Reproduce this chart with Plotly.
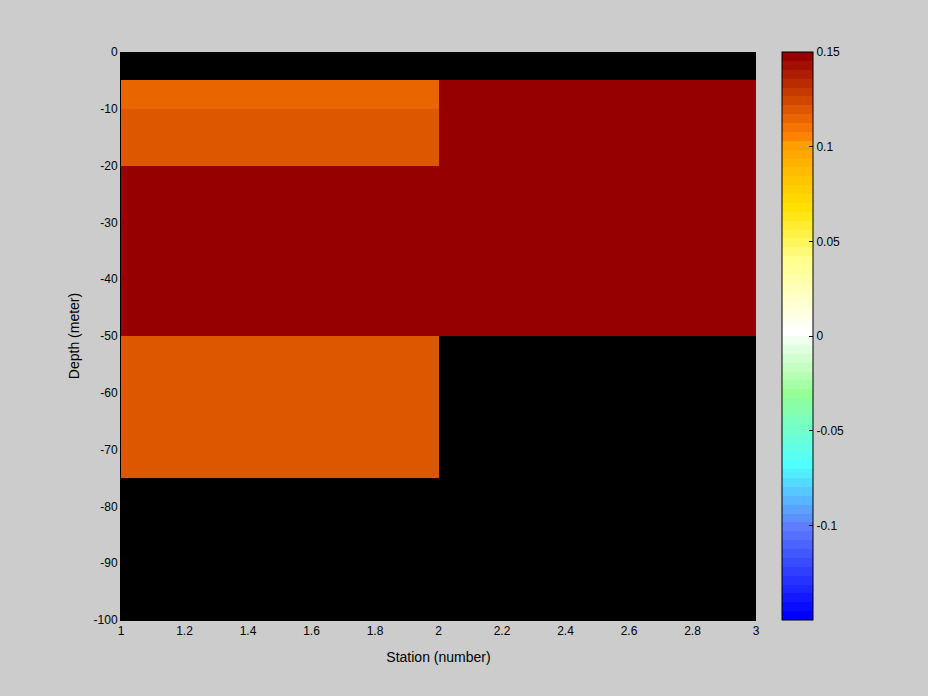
import plotly.graph_objects as go

# Data
station_edges = [1, 2, 3]
depth_edges = [-100, -75, -50, -20, -10, -5, 0]
# rows from deepest to shallowest, columns: station 1-2, station 2-3
values = [
    [None, None],
    [0.1195, None],
    [0.15, 0.15],
    [0.1195, 0.15],
    [0.1148, 0.15],
    [None, None],
]
cb_ticks = [-0.1, -0.05, 0, 0.05, 0.1, 0.15]
cb_ticktext = ["-0.1", "-0.05", "0", "0.05", "0.1", "0.15"]
x_ticks = [1, 1.2, 1.4, 1.6, 1.8, 2, 2.2, 2.4, 2.6, 2.8, 3]
y_ticks = [0, -10, -20, -30, -40, -50, -60, -70, -80, -90, -100]

# Discrete 64-level colormap (styling)
anchors = [
    (0, (0, 0, 255)),
    (10, (95, 125, 255)),
    (17, (80, 255, 255)),
    (25, (150, 255, 150)),
    (32, (255, 255, 255)),
    (40, (255, 255, 140)),
    (46, (255, 225, 0)),
    (53, (255, 160, 0)),
    (54, (255, 130, 0)),
    (63, (150, 0, 0)),
]
N = 64
def col(i):
    for (a, ca), (b, cb) in zip(anchors[:-1], anchors[1:]):
        if a <= i <= b:
            t = (i - a) / (b - a) if b > a else 0
            return tuple(round(ca[k] + (cb[k] - ca[k]) * t) for k in range(3))
    return anchors[-1][1]
colorscale = []
for i in range(N):
    c = "rgb(%d,%d,%d)" % col(i)
    colorscale.append([i / N, c])
    colorscale.append([(i + 1) / N, c])

fig = go.Figure(go.Heatmap(
    x=station_edges, y=depth_edges, z=values,
    colorscale=colorscale, zmin=-0.15, zmax=0.15,
    hoverongaps=False,
    colorbar=dict(
        x=(782 - 121) / 635, xanchor="left", xref="paper",
        y=0.5, yanchor="middle", len=1, lenmode="fraction",
        thickness=31, thicknessmode="pixels",
        outlinewidth=1, outlinecolor="black",
        tickvals=cb_ticks, ticktext=cb_ticktext,
        ticks="inside", ticklen=4, tickcolor="black",
        tickfont=dict(family="Liberation Sans", size=12, color="black"),
        xpad=0, ypad=0,
    ),
))

fig.update_layout(
    width=928, height=696,
    margin=dict(l=121, r=172, t=52, b=76),
    paper_bgcolor="#cccccc", plot_bgcolor="black",
    font=dict(family="Liberation Sans", size=12, color="black"),
    xaxis=dict(
        range=[1, 3], tickvals=x_ticks,
        ticktext=[("%g" % v) for v in x_ticks],
        showgrid=False, zeroline=False, showline=True, linecolor="black",
        ticks="", title=dict(text="Station (number)", standoff=14),
    ),
    yaxis=dict(
        range=[-100, 0], tickvals=y_ticks,
        ticktext=[("%g" % v) for v in y_ticks],
        showgrid=False, zeroline=False, showline=True, linecolor="black",
        ticks="", title=dict(text="Depth (meter)", standoff=10),
    ),
)

fig.write_html(
    "out.html",
    config={"displayModeBar": False},
    post_script="document.body.style.margin='0';document.body.style.padding='0';document.body.style.background='#cccccc';",
)
